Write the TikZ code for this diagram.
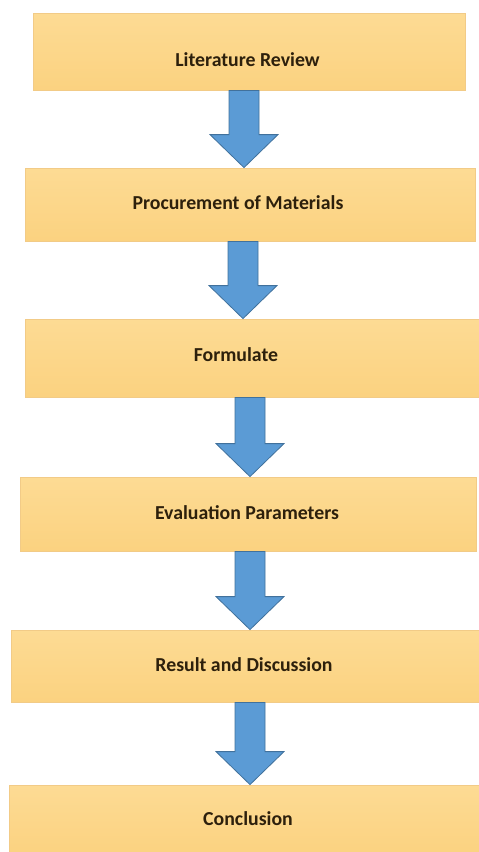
\documentclass[tikz,border=0pt]{standalone}
\usepackage{fontspec}
\setmainfont{Carlito}
\usetikzlibrary{calc}
\definecolor{boxtop}{RGB}{253,219,148}
\definecolor{boxbot}{RGB}{251,210,128}
\definecolor{boxedge}{RGB}{242,203,135}
\definecolor{arrfill}{RGB}{91,155,213}
\definecolor{arredge}{RGB}{65,113,156}
\definecolor{txtcol}{RGB}{45,32,12}
\tikzset{
  stagebox/.style={rectangle, draw=boxedge, line width=0.8pt, top color=boxtop, bottom color=boxbot, inner sep=0pt},
  stagetext/.style={font=\fontsize{19.8}{21}\selectfont\bfseries, text=txtcol, inner sep=0pt},
  blockarrow/.style={fill=arrfill, draw=arredge, line width=0.8pt, line join=miter}
}
\newcommand\blockarr[2]{%
  \draw[blockarrow] ($(#1)+(-15,0)$) -- ($(#2)+(-15,-33)$) -- ($(#2)+(-34,-33)$) -- (#2)
    -- ($(#2)+(34,-33)$) -- ($(#2)+(15,-33)$) -- ($(#1)+(15,0)$) -- cycle;}
\begin{document}
\begin{tikzpicture}[x=1pt,y=-1pt]
\useasboundingbox (0,0) rectangle (479,852);
% boxes
\node[stagebox, minimum width=432, minimum height=77] (b1) at (249,51.5) {};
\node[stagebox, minimum width=450, minimum height=73] (b2) at (250,204.5) {};
\node[stagebox, minimum width=454, minimum height=78] (b3) at (252,358) {};
\node[stagebox, minimum width=456, minimum height=74] (b4) at (248,514) {};
\node[stagebox, minimum width=468, minimum height=72] (b5) at (245,666) {};
\node[stagebox, minimum width=470, minimum height=70] (b6) at (244,820) {};
% texts
\node[stagetext] (t1) at (247.5,60) {Literature Review};
\node[stagetext] (t2) at (238,203) {Procurement of Materials};
\node[stagetext] (t3) at (236,355) {Formulate};
\node[stagetext] (t4) at (247,513) {Evaluation Parameters};
\node[stagetext] (t5) at (244,665) {Result and Discussion};
\node[stagetext] (t6) at (248,819) {Conclusion};
% arrow axes
\coordinate (x1) at (244,0);
\coordinate (x2) at (243,0);
\coordinate (x3) at (250,0);
\coordinate (x4) at (250,0);
\coordinate (x5) at (250,0);
\coordinate (s1) at (b1.south -| x1); \coordinate (e1) at (b2.north -| x1);
\coordinate (s2) at (b2.south -| x2); \coordinate (e2) at (b3.north -| x2);
\coordinate (s3) at (b3.south -| x3); \coordinate (e3) at (b4.north -| x3);
\coordinate (s4) at (b4.south -| x4); \coordinate (e4) at (b5.north -| x4);
\coordinate (s5) at (b5.south -| x5); \coordinate (e5) at (b6.north -| x5);
\blockarr{s1}{e1}
\blockarr{s2}{e2}
\blockarr{s3}{e3}
\blockarr{s4}{e4}
\blockarr{s5}{e5}
\end{tikzpicture}
\end{document}
